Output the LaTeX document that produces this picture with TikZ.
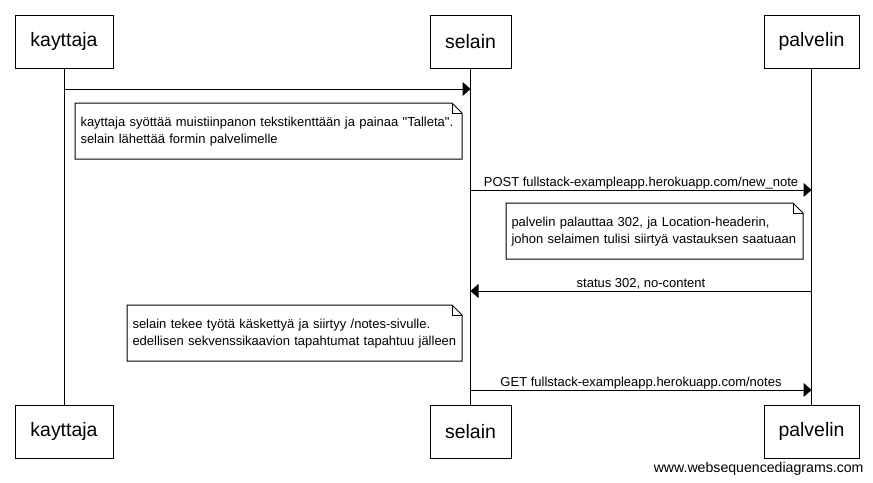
\documentclass[tikz,border=0pt]{standalone}
\usepackage{fontspec}
\setmainfont{Liberation Sans}[Ligatures=TeXOff]
\usetikzlibrary{arrows.meta}
\newcommand\drawnote[1]{%
  \draw (#1.north west) -- ([xshift=-7.5pt]#1.north east) -- ([yshift=-7.5pt]#1.north east) -- (#1.south east) -- (#1.south west) -- cycle;
  \draw ([xshift=-7.5pt]#1.north east) |- ([yshift=-7.5pt]#1.north east);}
\begin{document}
\begin{tikzpicture}[x=0.75pt,y=-0.75pt,line width=0.75pt,
  actor/.style={draw, inner sep=0, minimum height=39.75pt, font=\fontsize{14.6}{17}\selectfont},
  msg/.style={-{Triangle[length=6pt,width=10.5pt]}},
  msglabel/.style={anchor=base, inner sep=0, yshift=3pt, font=\fontsize{9.75}{12}\selectfont},
  notebox/.style={draw=none, anchor=north west, inner xsep=3.75pt, inner ysep=0pt, align=left,
    text height=17.25pt, text depth=24pt, font=\fontsize{9.75}{12.75}\selectfont}]
\fill[white] (0,0) rectangle (873,482);
\useasboundingbox (0,0) rectangle (873,482);

% actors
\node[actor, minimum width=73.5pt]  (k1) at (64,41.5)    {kayttaja};
\node[actor, minimum width=60.75pt] (s1) at (470.5,41.5) {selain};
\node[actor, minimum width=71.25pt] (p1) at (811.5,41.5) {palvelin};
\node[actor, minimum width=73.5pt]  (k2) at (64,431.5)    {kayttaja};
\node[actor, minimum width=60.75pt] (s2) at (470.5,431.5) {selain};
\node[actor, minimum width=71.25pt] (p2) at (811.5,431.5) {palvelin};

% lifelines
\draw (k1) -- (k2);
\draw (s1) -- (s2);
\draw (p1) -- (p2);

% message anchor points
\coordinate (ka) at (64,89);
\coordinate (sa) at (470.5,89);
\coordinate (sb) at (470.5,190);
\coordinate (pb) at (811.5,190);
\coordinate (pc) at (811.5,291);
\coordinate (sc) at (470.5,291);
\coordinate (sd) at (470.5,390);
\coordinate (pd) at (811.5,390);

\draw[msg] (ka) -- (sa);
\draw[msg] (sb) -- node[msglabel] (l1) {POST fullstack-exampleapp.herokuapp.com/new\_note} (pb);
\draw[msg] (pc) -- node[msglabel] (l2) {status 302, no-content} (sc);
\draw[msg] (sd) -- node[msglabel] (l3) {GET fullstack-exampleapp.herokuapp.com/notes} (pd);

% notes
\node[notebox, text width=282pt] (n1) at (75,103)
  {\mbox{kayttaja syöttää muistiinpanon tekstikenttään ja painaa "Talleta".}\\\mbox{selain lähettää formin palvelimelle}};
\drawnote{n1}
\node[notebox, text width=214.5pt] (n2) at (506,203)
  {\mbox{palvelin palauttaa 302, ja Location-headerin,}\\\mbox{johon selaimen tulisi siirtyä vastauksen saatuaan}};
\drawnote{n2}
\node[notebox, text width=243pt] (n3) at (127,305)
  {\mbox{selain tekee työtä käskettyä ja siirtyy /notes-sivulle.}\\\mbox{edellisen sekvenssikaavion tapahtumat tapahtuu jälleen}};
\drawnote{n3}

% watermark
\node[anchor=base east, inner sep=0, font=\fontsize{10.6}{12}\selectfont] (wm) at (864,472) {www.websequencediagrams.com};
\end{tikzpicture}
\end{document}
